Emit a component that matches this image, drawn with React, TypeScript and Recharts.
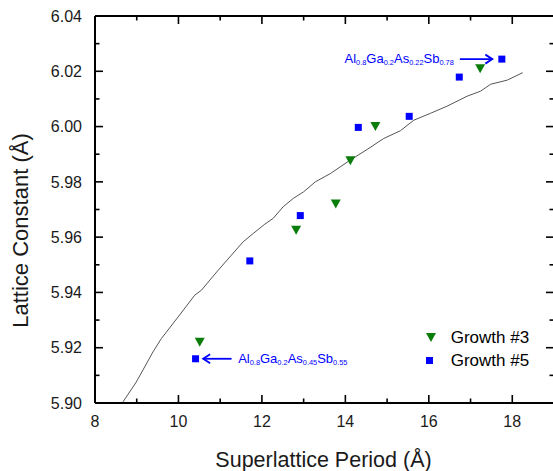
import React from 'react';
import { ScatterChart, Scatter, XAxis, YAxis, Legend } from 'recharts';

const FONT = '"Liberation Sans", Arial, Helvetica, sans-serif';
const GREEN = '#0a7d0a';
const BLUE = '#0000ff';
const INK = '#1a1a1a';
const AX = '#000';

// Axis ticks
const xTicks = [8, 9, 10, 11, 12, 13, 14, 15, 16, 17, 18];
const yTicks = [5.9, 5.91, 5.92, 5.93, 5.94, 5.95, 5.96, 5.97, 5.98, 5.99, 6.0, 6.01, 6.02, 6.03, 6.04];

// Growth #3 (green down triangles)
const growth3Period = [10.51, 12.82, 13.77, 14.12, 14.72, 17.23];
const growth3Lattice = [5.922, 5.9625, 5.972, 5.9876, 6.0, 6.0209];

// Growth #5 (blue squares)
const growth5Period = [10.41, 11.71, 12.92, 14.31, 15.53, 16.73, 17.75];
const growth5Lattice = [5.916, 5.9514, 5.9678, 5.9997, 6.0037, 6.0179, 6.0244];

// Calculated curve (thin gray line)
const curvePeriod = [8.67, 8.99, 9.39, 9.59, 9.99, 10.39, 10.55, 10.95, 11.27, 11.55, 11.79, 12.07, 12.27, 12.51, 12.75, 13.0, 13.28, 13.64, 14.12, 14.52, 14.92, 15.32, 15.64, 16.04, 16.44, 16.92, 17.24, 17.48, 17.88, 18.25];
const curveLattice = [5.9004, 5.9076, 5.9185, 5.9233, 5.9311, 5.939, 5.9408, 5.948, 5.9535, 5.9583, 5.9613, 5.9647, 5.9668, 5.971, 5.974, 5.9764, 5.98, 5.983, 5.9879, 5.9917, 5.9957, 5.9985, 6.0023, 6.0048, 6.0074, 6.011, 6.0128, 6.0153, 6.0168, 6.0195];

// Annotation formulas
const formulaTop = [['Al', '0.8'], ['Ga', '0.2'], ['As', '0.22'], ['Sb', '0.78']];
const formulaBottom = [['Al', '0.8'], ['Ga', '0.2'], ['As', '0.45'], ['Sb', '0.55']];

const legendNames = ['Growth #3', 'Growth #5'];

const zip = (xs: number[], ys: number[]) => xs.map((x, i) => ({ x, y: ys[i] }));
const growth3 = zip(growth3Period, growth3Lattice);
const growth5 = zip(growth5Period, growth5Lattice);
const curve = zip(curvePeriod, curveLattice);
const annotTopData = [{ x: growth5Period[6], y: growth5Lattice[6] }];
const annotBottomData = [{ x: growth5Period[0], y: growth5Lattice[0] }];

const TriangleDown = (props: any) => {
  const { cx, cy } = props;
  if (cx == null || cy == null) return <g />;
  return <path d={`M${cx - 5},${cy - 4.5}L${cx + 5},${cy - 4.5}L${cx},${cy + 4.5}Z`} fill={GREEN} />;
};

const Square = (props: any) => {
  const { cx, cy } = props;
  if (cx == null || cy == null) return <g />;
  return <rect x={cx - 3.5} y={cy - 3.5} width={7} height={7} fill={BLUE} />;
};

const Formula = ({ x, y, anchor, parts }: any) => (
  <text x={x} y={y} textAnchor={anchor} fill={BLUE} fontSize={13} fontFamily={FONT}>
    {parts.map((p: string[], i: number) => (
      <React.Fragment key={i}>
        <tspan dy={i === 0 ? 0 : -2}>{p[0]}</tspan>
        <tspan fontSize={7.4} dy={2}>{p[1]}</tspan>
      </React.Fragment>
    ))}
  </text>
);

const makeAnnotation = (side: 'left' | 'right', parts: string[][]) => (props: any) => {
  const { cx, cy } = props;
  if (cx == null || cy == null) return <g />;
  if (side === 'left') {
    const tip = cx - 9.5;
    const tail = cx - 42;
    return (
      <g>
        <line x1={tail} y1={cy} x2={tip} y2={cy} stroke={BLUE} strokeWidth={1.8} />
        <path d={`M${tip - 7},${cy - 4.5}L${tip},${cy}L${tip - 7},${cy + 4.5}`} fill="none" stroke={BLUE} strokeWidth={1.8} />
        <Formula x={cx - 48} y={cy + 4} anchor="end" parts={parts} />
      </g>
    );
  }
  const tip = cx + 7.6;
  const tail = cx + 36;
  return (
    <g>
      <line x1={tip} y1={cy} x2={tail} y2={cy} stroke={BLUE} strokeWidth={1.8} />
      <path d={`M${tip + 7},${cy - 4.5}L${tip},${cy}L${tip + 7},${cy + 4.5}`} fill="none" stroke={BLUE} strokeWidth={1.8} />
      <Formula x={cx + 42.6} y={cy + 4} anchor="start" parts={parts} />
    </g>
  );
};

const BottomTick = (props: any) => {
  const { x, y, payload } = props;
  const v = payload.value;
  const major = Math.round(v) % 2 === 0;
  return (
    <g>
      <line x1={x} x2={x} y1={y} y2={y - (major ? 8 : 4.5)} stroke={AX} strokeWidth={1.6} />
      {major && (
        <text x={x} y={y + 24} textAnchor="middle" fontSize={16} fill={INK} fontFamily={FONT}>
          {v}
        </text>
      )}
    </g>
  );
};

const TopTick = (props: any) => {
  const { x, y, payload } = props;
  const major = Math.round(payload.value) % 2 === 0;
  return <line x1={x} x2={x} y1={y} y2={y + (major ? 8 : 4.5)} stroke={AX} strokeWidth={1.6} />;
};

const LeftTick = (props: any) => {
  const { x, y, payload } = props;
  const v = payload.value;
  const major = Math.round(v * 100) % 2 === 0;
  return (
    <g>
      <line x1={x} x2={x + (major ? 8 : 4.5)} y1={y} y2={y} stroke={AX} strokeWidth={1.6} />
      {major && (
        <text x={x - 13} y={y + 5.7} textAnchor="end" fontSize={16} fill={INK} fontFamily={FONT}>
          {v.toFixed(2)}
        </text>
      )}
    </g>
  );
};

const RightTick = (props: any) => {
  const { x, y, payload } = props;
  const major = Math.round(payload.value * 100) % 2 === 0;
  return <line x1={x} x2={x - (major ? 8 : 4.5)} y1={y} y2={y} stroke={AX} strokeWidth={1.6} />;
};

const XLabel = (props: any) => {
  const vb = props.viewBox || {};
  return (
    <text x={vb.x + vb.width / 2 - 1} y={vb.y + 63.5} textAnchor="middle" fontSize={21.5} fill={INK} fontFamily={FONT}>
      Superlattice Period (Å)
    </text>
  );
};

const YLabel = (props: any) => {
  const vb = props.viewBox || {};
  const x0 = vb.x + 13;
  const y0 = vb.y + vb.height / 2 + 21;
  return (
    <text x={x0} y={y0} transform={`rotate(-90, ${x0}, ${y0})`} textAnchor="middle" fontSize={22} fill={INK} fontFamily={FONT}>
      Lattice Constant (Å)
    </text>
  );
};

const LegendContent = () => (
  <div style={{ fontFamily: FONT, fontSize: 17, color: '#000', lineHeight: '23px' }}>
    {legendNames.map((name, i) => (
      <div key={name} style={{ display: 'flex', alignItems: 'center', height: 23 }}>
        <svg width={14} height={23} style={{ display: 'block' }}>
          {i === 0 ? (
            <path d="M2,7L12,7L7,16Z" fill={GREEN} />
          ) : (
            <rect x={2} y={8} width={7} height={7} fill={BLUE} />
          )}
        </svg>
        <span style={{ marginLeft: 12.7, whiteSpace: 'nowrap' }}>{name}</span>
      </div>
    ))}
  </div>
);

export default function App() {
  return (
    <div style={{ position: 'absolute', left: 0, top: 0, width: 553, height: 471, background: '#fff', overflow: 'hidden' }}>
      <ScatterChart width={556} height={471} margin={{ top: 15, right: 1, bottom: 8, left: 15 }}>
        <XAxis xAxisId={0} type="number" dataKey="x" domain={[8, 19]} ticks={xTicks} interval={0} height={60} tickSize={0} tickMargin={0} tick={BottomTick} tickLine={false} axisLine={{ stroke: AX, strokeWidth: 2 }} label={XLabel} />
        <XAxis xAxisId="top" orientation="top" type="number" dataKey="x" domain={[8, 19]} ticks={xTicks} interval={0} height={1} tickSize={0} tickMargin={0} tick={TopTick} tickLine={false} axisLine={{ stroke: AX, strokeWidth: 2 }} />
        <YAxis yAxisId={0} type="number" dataKey="y" domain={[5.9, 6.04]} ticks={yTicks} interval={0} width={80} tickSize={0} tickMargin={0} tick={LeftTick} tickLine={false} axisLine={{ stroke: AX, strokeWidth: 2 }} label={YLabel} />
        <YAxis yAxisId="right" orientation="right" type="number" dataKey="y" domain={[5.9, 6.04]} ticks={yTicks} interval={0} width={1} tickSize={0} tickMargin={0} tick={RightTick} tickLine={false} axisLine={{ stroke: AX, strokeWidth: 2 }} />
        <Scatter name="curve" data={curve} xAxisId="top" yAxisId="right" line={{ stroke: '#555', strokeWidth: 1 }} lineType="joint" shape={() => <g />} legendType="none" isAnimationActive={false} />
        <Scatter name="Growth #3" data={growth3} xAxisId={0} yAxisId={0} shape={TriangleDown} isAnimationActive={false} />
        <Scatter name="Growth #5" data={growth5} xAxisId={0} yAxisId={0} shape={Square} isAnimationActive={false} />
        <Scatter name="annotTop" data={annotTopData} xAxisId={0} yAxisId={0} shape={makeAnnotation('left', formulaTop)} legendType="none" isAnimationActive={false} />
        <Scatter name="annotBottom" data={annotBottomData} xAxisId={0} yAxisId={0} shape={makeAnnotation('right', formulaBottom)} legendType="none" isAnimationActive={false} />
        <Legend layout="vertical" align="center" verticalAlign="middle" wrapperStyle={{ left: 424, top: 326, width: 'auto', height: 'auto' }} content={LegendContent} />
      </ScatterChart>
    </div>
  );
}
